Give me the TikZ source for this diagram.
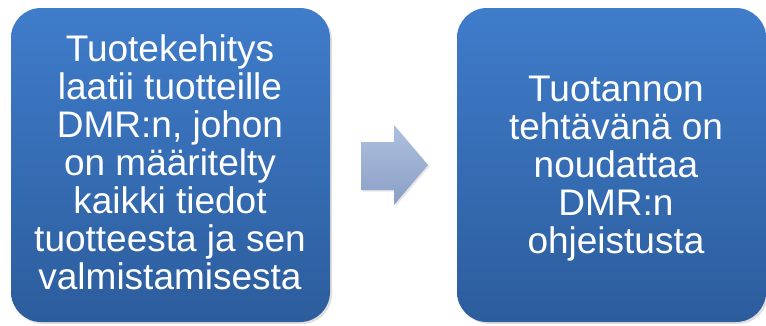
\documentclass[tikz,border=0pt]{standalone}
\usepackage{fontspec}
\setmainfont{Liberation Sans}
\usetikzlibrary{shadows}
\definecolor{boxtop}{HTML}{3F7CCA}
\definecolor{boxbot}{HTML}{2C5D9D}
\definecolor{arrtop}{HTML}{AEC0DF}
\definecolor{arrbot}{HTML}{8A9FC6}
\begin{document}
\begin{tikzpicture}[x=1pt,y=-1pt,
  box/.style={rounded corners=30pt, top color=boxtop, bottom color=boxbot, draw=none,
    drop shadow={shadow xshift=2pt, shadow yshift=-2pt, opacity=0.25}},
  boxtext/.style={text=white, align=center, inner sep=0pt, font=\fontsize{37}{38}\selectfont}]
\useasboundingbox (0,0) rectangle (766,325);
\path[box] (11,8) rectangle (330,322);
\path[box] (457,8) rectangle (766,322);
\node[boxtext] (lefttext) at (170,162.5) {Tuotekehitys\\laatii tuotteille\\DMR:n, johon\\on määritelty\\kaikki tiedot\\tuotteesta ja sen\\valmistamisesta};
\node[boxtext] (righttext) at (616,168.5) {Tuotannon\\tehtävänä on\\noudattaa\\DMR:n\\ohjeistusta};
\path[top color=arrtop, bottom color=arrbot, drop shadow={shadow xshift=1.5pt, shadow yshift=-1.5pt, opacity=0.2}]
  (361,142) -- (394,142) -- (394,125) -- (428,165) -- (394,205) -- (394,190) -- (361,190) -- cycle;
\end{tikzpicture}
\end{document}
